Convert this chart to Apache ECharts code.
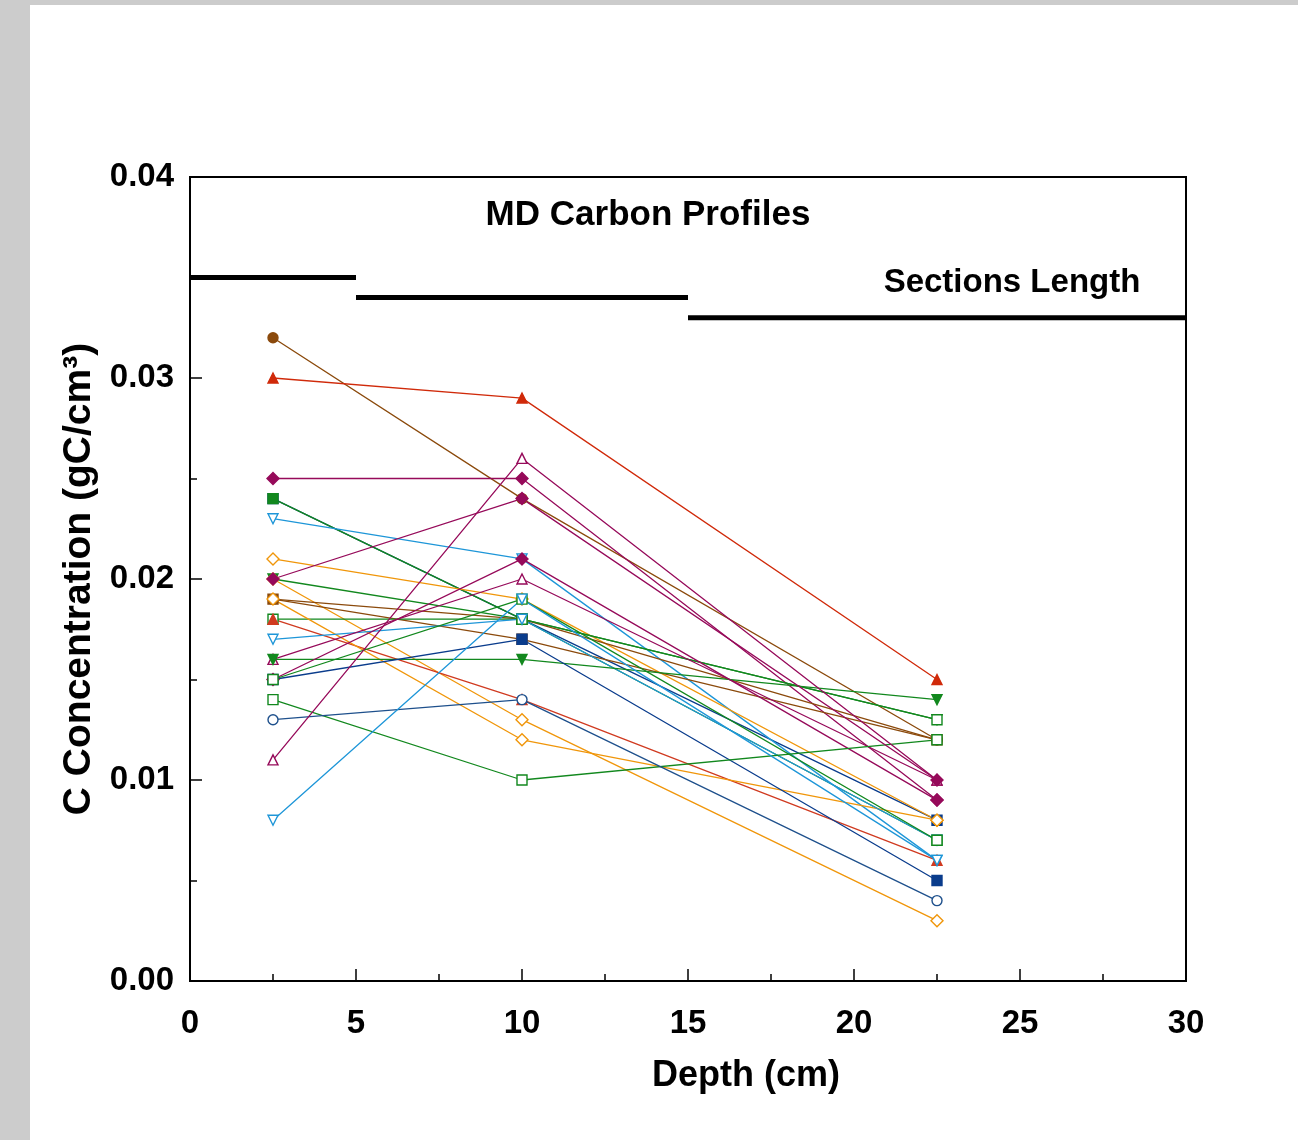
<!DOCTYPE html>
<html><head><meta charset="utf-8">
<script src="https://cdn.jsdelivr.net/npm/echarts@6/dist/echarts.min.js"></script>
<style>
html,body{margin:0;padding:0;background:#cccccc;}
#bg{position:absolute;left:30px;top:5px;width:1268px;height:1135px;background:#fff;}
#c{position:absolute;left:0;top:0;width:1298px;height:1140px;}
</style></head><body>
<div id="bg"></div><div id="c"></div>
<script>
const depths = [2.5, 10, 22.5];
const xTicks = [0, 5, 10, 15, 20, 25, 30];
const yTicks = [0, 0.01, 0.02, 0.03, 0.04];
// sections length steps: [start, end, value]
const sectionStarts = [0, 5, 15];
const sectionEnds = [5, 15, 30];
const sectionValues = [0.035, 0.034, 0.033];

const seriesNames = ['s1','s2','s3','s25','s4','s5','s6','s7','s8','s9','s10','s11','s12','s13','s14','s15','s16','s17','s18','s19','s20','s21','s22','s23','s24'];
const seriesValues = [
  [0.032, 0.024, 0.012],
  [0.030, 0.029, 0.015],
  [0.025, 0.025, 0.009],
  [0.024, 0.018, 0.008],
  [0.024, 0.018, 0.007],
  [0.023, 0.021, 0.006],
  [0.021, 0.019, 0.008],
  [0.020, 0.018, 0.013],
  [0.020, 0.013, 0.003],
  [0.019, 0.018, 0.012],
  [0.019, 0.017, 0.012],
  [0.018, 0.018, 0.013],
  [0.018, 0.014, 0.006],
  [0.019, 0.012, 0.008],
  [0.017, 0.018, 0.007],
  [0.016, 0.020, 0.010],
  [0.016, 0.016, 0.014],
  [0.015, 0.017, 0.005],
  [0.015, 0.021, 0.009],
  [0.015, 0.019, 0.007],
  [0.014, 0.010, 0.012],
  [0.013, 0.014, 0.004],
  [0.011, 0.026, 0.010],
  [0.008, 0.019, 0.006],
  [0.020, 0.024, 0.010]
];
const seriesColors = ['#8b4a0c','#d02a0a','#960a5a','#0a3c8c','#12881e','#1e96d8','#f0960a','#12881e','#f0960a','#8b4a0c','#8b4a0c','#12881e','#d03a20','#f0960a','#1e96d8','#960a5a','#12881e','#0a3c8c','#960a5a','#12881e','#12881e','#1e508c','#960a5a','#1e96d8','#960a5a'];
const seriesSymbols = ['circle','triangle','diamond','rect','rect','triangle','diamond','triangle','diamond','circle','rect','rect','triangle','diamond','triangle','triangle','triangle','rect','diamond','rect','rect','circle','triangle','triangle','diamond'];
const seriesRotate = [0,0,0,0,0,180,0,180,0,0,0,0,0,0,180,0,180,0,0,0,0,0,0,180,0];
const seriesOpen = [0,0,0,0,0,1,1,0,1,0,0,1,0,1,1,1,0,0,0,1,1,1,1,1,0];

const chart = echarts.init(document.getElementById('c'));
const font = '"Liberation Sans", Arial, sans-serif';
const series = seriesValues.map((vals, i) => ({
  name: seriesNames[i],
  type: 'line',
  data: vals.map((v, j) => [depths[j], v]),
  symbol: seriesSymbols[i],
  symbolRotate: seriesRotate[i],
  symbolSize: seriesSymbols[i] === 'diamond' ? 12 : 10,
  lineStyle: {color: seriesColors[i], width: 1.3},
  itemStyle: {color: seriesOpen[i] ? '#fff' : seriesColors[i], borderColor: seriesColors[i], borderWidth: 1.4},
  z: 3,
  animation: false
}));
sectionValues.forEach((v, i) => {
  series.push({
    type: 'line',
    data: [[sectionStarts[i], v], [sectionEnds[i], v]],
    symbol: 'none',
    lineStyle: {color: '#000', width: 5},
    z: 4,
    animation: false
  });
});

chart.setOption({
  backgroundColor: 'transparent',
  animation: false,
  grid: {left: 190, top: 177, right: 112, bottom: 159, show: true, borderColor: '#000', borderWidth: 2, backgroundColor: 'transparent'},
  title: [
    {text: 'MD Carbon Profiles', left: 643, top: 193, textAlign: 'center',
     textStyle: {fontFamily: font, fontWeight: 'bold', fontSize: 35, color: '#000'}},
    {text: 'Sections Length', left: 1007, top: 261, textAlign: 'center',
     textStyle: {fontFamily: font, fontWeight: 'bold', fontSize: 33, color: '#000'}}
  ],
  graphic: [
    {type: 'text', x: 746, y: 1058, style: {text: 'Depth (cm)', fontFamily: font, fontWeight: 'bold', fontSize: 36, fill: '#000', align: 'center', textAlign: 'center'}}
  ],
  xAxis: {
    type: 'value', min: xTicks[0], max: xTicks[xTicks.length - 1], interval: 5,
    axisLine: {show: true, lineStyle: {color: '#000', width: 2}},
    axisTick: {show: true, inside: true, length: 12, lineStyle: {color: '#000', width: 1.5}},
    minorTick: {show: true, splitNumber: 2, length: 7, lineStyle: {color: '#000', width: 1.5}},
    splitLine: {show: false},
    axisLabel: {margin: 26, fontFamily: font, fontWeight: 'bold', fontSize: 33, color: '#000'}
  },
  yAxis: {
    type: 'value', min: yTicks[0], max: yTicks[yTicks.length - 1], interval: 0.01,
    name: 'C Concentration (gC/cm³)', nameLocation: 'middle', nameGap: 70,
    nameTextStyle: {fontFamily: font, fontWeight: 'bold', fontSize: 39, color: '#000'},
    axisLine: {show: true, lineStyle: {color: '#000', width: 2}},
    axisTick: {show: true, inside: true, length: 12, lineStyle: {color: '#000', width: 1.5}},
    minorTick: {show: true, splitNumber: 2, length: 7, lineStyle: {color: '#000', width: 1.5}},
    splitLine: {show: false},
    axisLabel: {margin: 16, fontFamily: font, fontWeight: 'bold', fontSize: 33, color: '#000',
      formatter: v => v.toFixed(2)}
  },
  series: series
});
</script>
</body></html>
